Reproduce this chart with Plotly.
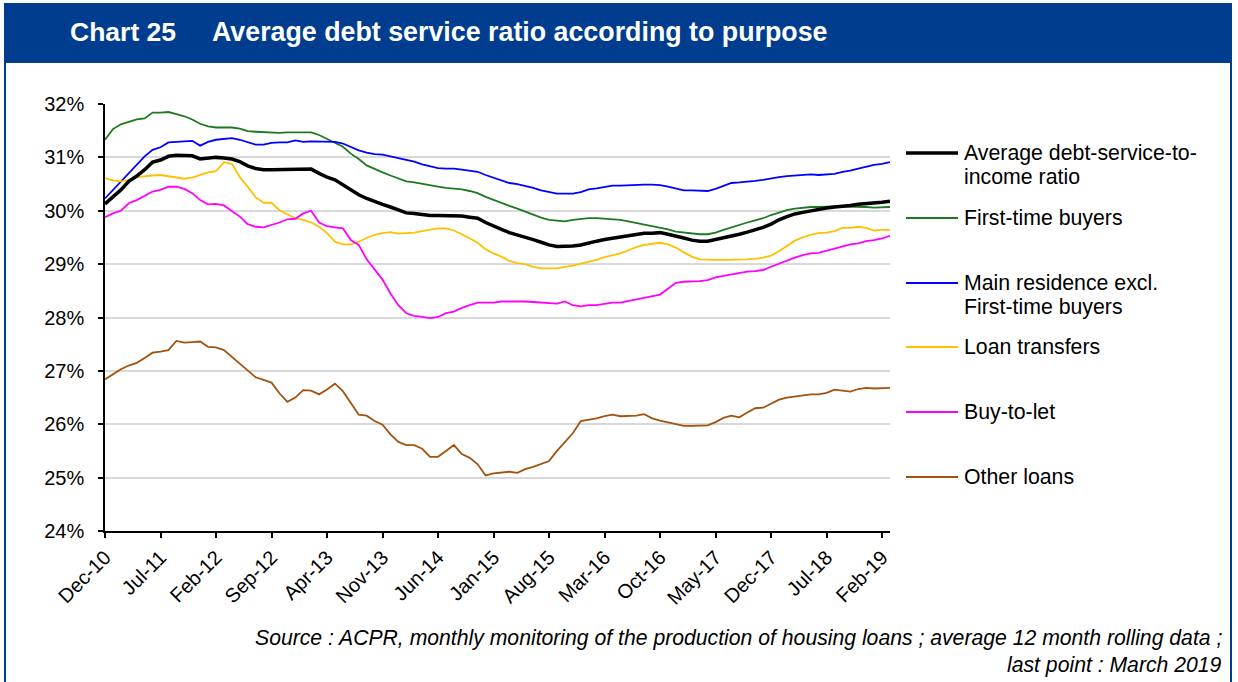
import pandas as pd
import plotly.graph_objects as go

# Monthly observations, Dec-2010 .. Mar-2019 (12-month rolling averages, %)
months = pd.date_range("2010-12-01", periods=100, freq="MS").strftime("%b-%y").tolist()
tick_months = ["Dec-10", "Jul-11", "Feb-12", "Sep-12", "Apr-13", "Nov-13", "Jun-14", "Jan-15",
               "Aug-15", "Mar-16", "Oct-16", "May-17", "Dec-17", "Jul-18", "Feb-19"]

average_dsti = [
    30.13, 30.25, 30.39, 30.55, 30.65, 30.77, 30.91, 30.95, 31.02, 31.04, 31.04, 31.03, 30.97, 30.98,
    31.00, 30.99, 30.97, 30.92, 30.84, 30.79, 30.77, 30.77, 30.77, 30.77, 30.77, 30.78, 30.78, 30.70,
    30.63, 30.58, 30.49, 30.39, 30.30,
    30.23, 30.17, 30.12, 30.07, 30.01, 29.96, 29.95, 29.93, 29.91, 29.91, 29.91, 29.91, 29.90, 29.88,
    29.86, 29.78, 29.71, 29.65, 29.59, 29.55, 29.51, 29.46, 29.41, 29.36, 29.33, 29.33, 29.34, 29.36,
    29.40, 29.43, 29.46, 29.49, 29.51, 29.53, 29.56,
    29.58, 29.58, 29.59, 29.56, 29.53, 29.49, 29.45, 29.43, 29.43, 29.46, 29.50, 29.53, 29.56, 29.60,
    29.64, 29.69, 29.75, 29.83, 29.89, 29.94, 29.97, 30.00, 30.03, 30.05, 30.07, 30.08, 30.10, 30.12,
    30.13, 30.14, 30.16, 30.18,
]

first_time_buyers = [
    31.33, 31.53, 31.62, 31.66, 31.71, 31.73, 31.84, 31.84, 31.85, 31.81, 31.77, 31.71, 31.63, 31.58,
    31.56, 31.56, 31.56, 31.54, 31.49, 31.48, 31.47, 31.46, 31.46, 31.47, 31.47, 31.48, 31.47, 31.42,
    31.35, 31.27, 31.20, 31.07, 30.97,
    30.85, 30.78, 30.72, 30.66, 30.61, 30.55, 30.53, 30.50, 30.47, 30.45, 30.43, 30.42, 30.40, 30.37,
    30.33, 30.26, 30.20, 30.14, 30.09, 30.04, 29.98, 29.93, 29.87, 29.83, 29.81, 29.80, 29.83, 29.85,
    29.86, 29.86, 29.85, 29.83, 29.83, 29.80, 29.77,
    29.75, 29.71, 29.69, 29.65, 29.61, 29.59, 29.57, 29.56, 29.56, 29.59, 29.64, 29.69, 29.73, 29.78,
    29.82, 29.86, 29.92, 29.97, 30.01, 30.04, 30.06, 30.07, 30.07, 30.08, 30.08, 30.08, 30.08, 30.07,
    30.07, 30.06, 30.07, 30.07,
]

main_residence = [
    30.23, 30.39, 30.55, 30.70, 30.88, 31.02, 31.14, 31.19, 31.28, 31.29, 31.29, 31.31, 31.22, 31.29,
    31.33, 31.35, 31.36, 31.33, 31.29, 31.24, 31.24, 31.27, 31.28, 31.28, 31.32, 31.29, 31.30, 31.30,
    31.30, 31.29, 31.26, 31.19, 31.13,
    31.09, 31.06, 31.05, 31.02, 30.98, 30.95, 30.92, 30.87, 30.83, 30.80, 30.79, 30.79, 30.77, 30.75,
    30.73, 30.67, 30.62, 30.56, 30.52, 30.50, 30.47, 30.43, 30.38, 30.35, 30.32, 30.32, 30.32, 30.35,
    30.40, 30.42, 30.44, 30.47, 30.47, 30.48, 30.48,
    30.49, 30.49, 30.48, 30.45, 30.41, 30.38, 30.38, 30.37, 30.37, 30.41, 30.47, 30.52, 30.53, 30.54,
    30.56, 30.58, 30.61, 30.63, 30.65, 30.66, 30.68, 30.68, 30.67, 30.68, 30.69, 30.73, 30.75, 30.79,
    30.83, 30.86, 30.88, 30.91,
]

loan_transfers = [
    30.61, 30.57, 30.55, 30.58, 30.63, 30.65, 30.66, 30.67, 30.65, 30.63, 30.60, 30.62, 30.67, 30.72,
    30.74, 30.91, 30.88, 30.63, 30.45, 30.25, 30.15, 30.15, 30.01, 29.94, 29.86, 29.83, 29.78, 29.70,
    29.58, 29.42, 29.37, 29.37, 29.42,
    29.49, 29.55, 29.58, 29.60, 29.57, 29.58, 29.59, 29.62, 29.64, 29.67, 29.67, 29.63, 29.56, 29.48,
    29.40, 29.28, 29.20, 29.14, 29.06, 29.02, 29.00, 28.95, 28.92, 28.92, 28.92, 28.95, 28.97, 29.01,
    29.04, 29.08, 29.13, 29.16, 29.20, 29.26, 29.32,
    29.36, 29.38, 29.40, 29.37, 29.31, 29.22, 29.14, 29.09, 29.08, 29.08, 29.08, 29.08, 29.09, 29.09,
    29.10, 29.12, 29.16, 29.24, 29.34, 29.44, 29.50, 29.55, 29.58, 29.59, 29.62, 29.68, 29.68, 29.70,
    29.68, 29.63, 29.64, 29.64,
]

buy_to_let = [
    29.88, 29.95, 30.00, 30.14, 30.20, 30.28, 30.36, 30.39, 30.45, 30.45, 30.41, 30.33, 30.20, 30.12,
    30.13, 30.10, 29.99, 29.89, 29.75, 29.70, 29.69, 29.73, 29.78, 29.84, 29.85, 29.95, 30.00, 29.78,
    29.71, 29.69, 29.67, 29.45, 29.36,
    29.09, 28.89, 28.71, 28.45, 28.23, 28.08, 28.03, 28.01, 27.99, 28.01, 28.08, 28.11, 28.18, 28.23,
    28.28, 28.28, 28.28, 28.30, 28.30, 28.31, 28.30, 28.29, 28.28, 28.26, 28.26, 28.30, 28.23, 28.21,
    28.23, 28.23, 28.25, 28.28, 28.28, 28.31, 28.34,
    28.36, 28.39, 28.43, 28.54, 28.65, 28.67, 28.67, 28.68, 28.70, 28.75, 28.78, 28.81, 28.84, 28.86,
    28.87, 28.89, 28.95, 29.01, 29.06, 29.12, 29.17, 29.20, 29.21, 29.25, 29.29, 29.34, 29.37, 29.39,
    29.43, 29.45, 29.48, 29.53,
]

other_loans = [
    26.84, 26.94, 27.03, 27.10, 27.15, 27.24, 27.34, 27.36, 27.39, 27.56, 27.53, 27.54, 27.55, 27.45,
    27.44, 27.39, 27.26, 27.14, 27.00, 26.88, 26.83, 26.78, 26.58, 26.42, 26.50, 26.64, 26.63, 26.56,
    26.65, 26.76, 26.62, 26.39, 26.18,
    26.16, 26.06, 25.99, 25.81, 25.67, 25.61, 25.61, 25.54, 25.39, 25.39, 25.50, 25.61, 25.44, 25.37,
    25.25, 25.04, 25.08, 25.09, 25.11, 25.09, 25.16, 25.20, 25.25, 25.31, 25.50, 25.66, 25.83, 26.06,
    26.08, 26.11, 26.15, 26.18, 26.15, 26.15, 26.16,
    26.19, 26.11, 26.07, 26.04, 26.01, 25.97, 25.97, 25.97, 25.98, 26.04, 26.12, 26.16, 26.13, 26.22,
    26.30, 26.31, 26.39, 26.46, 26.50, 26.52, 26.55, 26.56, 26.56, 26.59, 26.65, 26.63, 26.61, 26.66,
    26.68, 26.67, 26.68, 26.68,
]

y_ticks = [24, 25, 26, 27, 28, 29, 30, 31, 32]

series_names = ["Average debt-service-to-income ratio", "First-time buyers",
                "Main residence excl. First-time buyers", "Loan transfers", "Buy-to-let", "Other loans"]
legend_lines = [["Average debt-service-to-", "income ratio"], ["First-time buyers"],
                ["Main residence excl.", "First-time buyers"], ["Loan transfers"], ["Buy-to-let"],
                ["Other loans"]]
series_values = [average_dsti, first_time_buyers, main_residence, loan_transfers, buy_to_let, other_loans]
series_colors = ["#000000", "#1E7A1E", "#0000FF", "#FFC000", "#FF00FF", "#A5520F"]
series_widths = [3.5, 1.8, 1.8, 1.8, 1.8, 1.8]

FONT = "Liberation Sans, Arial, sans-serif"
BLUE = "#003D8E"
W, H = 1238, 682
L, R, T, B = 105, 890, 104, 531  # plot area in pixels


def px(x):
    return (x - L) / (R - L)


def py(y):
    return (B - y) / (B - T)


fig = go.Figure()

# draw the summary line last so it sits on top
order = [1, 2, 3, 4, 5, 0]
for k in order:
    fig.add_trace(go.Scatter(
        x=months, y=series_values[k], name=series_names[k], mode="lines",
        line=dict(color=series_colors[k], width=series_widths[k]),
        showlegend=False,
    ))

shapes = []
annotations = []

# header band
shapes.append(dict(type="rect", xref="paper", yref="paper", x0=px(4), x1=px(1232), y0=py(63), y1=py(3),
                   fillcolor=BLUE, line=dict(width=0), layer="above"))
# frame sides
for xx in (5, 1231):
    shapes.append(dict(type="line", xref="paper", yref="paper", x0=px(xx), x1=px(xx), y0=py(63), y1=py(H + 2),
                       line=dict(color=BLUE, width=2)))

annotations.append(dict(text="<b>Chart 25</b>", xref="paper", yref="paper", x=px(68), y=py(32),
                        xanchor="left", yanchor="middle", showarrow=False,
                        font=dict(family=FONT, size=26.5, color="white")))
annotations.append(dict(text="<b>Average debt service ratio according to purpose</b>", xref="paper", yref="paper",
                        x=px(210), y=py(32), xanchor="left", yanchor="middle", showarrow=False,
                        font=dict(family=FONT, size=26.8, color="white")))

# legend drawn beside the plot
entry_y = [153, 218, 283, 347, 412, 477]
for k in range(len(series_names)):
    y0 = entry_y[k]
    shapes.append(dict(type="line", xref="paper", yref="paper", x0=px(906), x1=px(958), y0=py(y0), y1=py(y0),
                       line=dict(color=series_colors[k], width=series_widths[k])))
    for j, line_txt in enumerate(legend_lines[k]):
        annotations.append(dict(text=line_txt, xref="paper", yref="paper", x=px(962), y=py(y0 + 24 * j),
                                xanchor="left", yanchor="middle", showarrow=False,
                                font=dict(family=FONT, size=21.3, color="black")))

# source note
annotations.append(dict(
    text="<i>Source : ACPR, monthly monitoring of the production of housing loans ; average 12 month rolling data ;</i>",
    xref="paper", yref="paper", x=px(1224), y=py(638), xanchor="right", yanchor="middle", showarrow=False,
    font=dict(family=FONT, size=21.2, color="black")))
annotations.append(dict(
    text="<i>last point : March 2019</i>",
    xref="paper", yref="paper", x=px(1224), y=py(665), xanchor="right", yanchor="middle", showarrow=False,
    font=dict(family=FONT, size=21.2, color="black")))

fig.update_layout(
    width=W, height=H,
    margin=dict(l=L, r=W - R, t=T, b=H - B, pad=0),
    paper_bgcolor="white", plot_bgcolor="white",
    font=dict(family=FONT, size=20, color="black"),
    shapes=shapes, annotations=annotations,
    showlegend=False,
)

fig.update_xaxes(
    type="category", range=[0, len(months) - 1],
    tickmode="array", tickvals=tick_months, ticktext=tick_months, tickangle=-45,
    showline=True, linecolor="black", linewidth=1.5,
    ticks="outside", ticklen=5, tickwidth=1.5, tickcolor="black",
    showgrid=False, zeroline=False,
    tickfont=dict(family=FONT, size=20, color="black"),
)

fig.update_yaxes(
    range=[24, 32], tickmode="array", tickvals=y_ticks, ticktext=[f"{v}%" for v in y_ticks],
    showline=True, linecolor="black", linewidth=1.5,
    ticks="outside", ticklen=5, tickwidth=1.5, tickcolor="black", ticklabelstandoff=10,
    showgrid=True, gridcolor="#D9D9D9", gridwidth=2, zeroline=False,
    tickfont=dict(family=FONT, size=20, color="black"),
)

fig.write_html("out.html")
